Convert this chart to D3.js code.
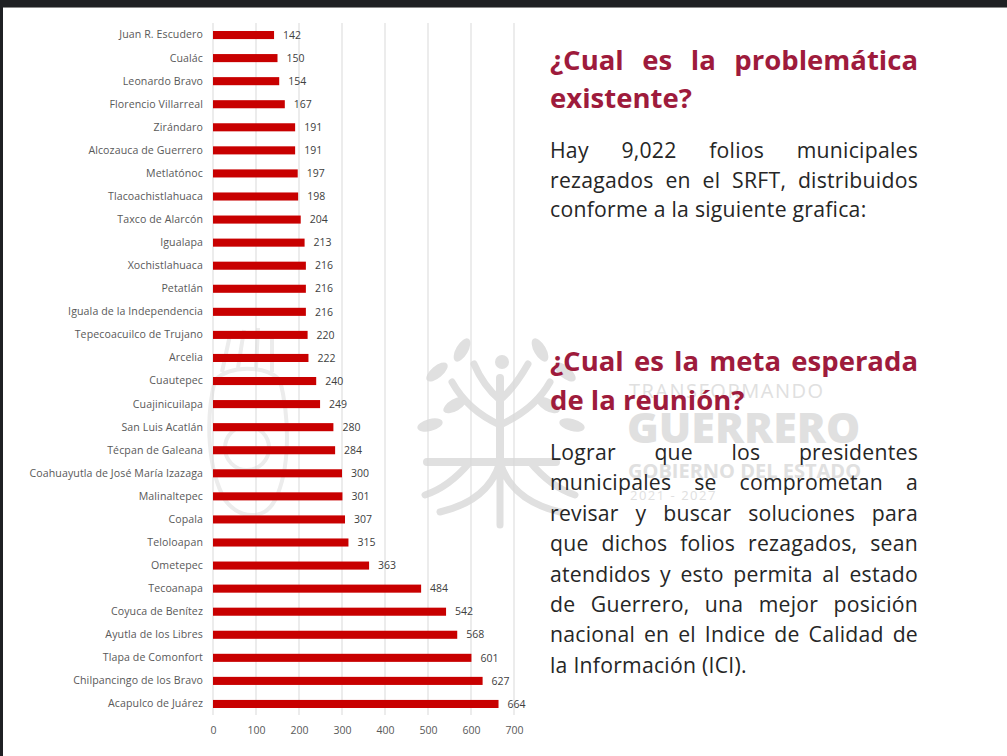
<!DOCTYPE html>
<html><head><meta charset="utf-8">
<script src="https://cdn.jsdelivr.net/npm/d3@7"></script>
<style>
html,body{margin:0;padding:0;background:#fff;}
svg{display:block;}
</style></head>
<body>
<svg id="c" width="1007" height="756"></svg>
<script>
const categories = ["Juan R. Escudero","Cualác","Leonardo Bravo","Florencio Villarreal","Zirándaro","Alcozauca de Guerrero","Metlatónoc","Tlacoachistlahuaca","Taxco de Alarcón","Igualapa","Xochistlahuaca","Petatlán","Iguala de la Independencia","Tepecoacuilco de Trujano","Arcelia","Cuautepec","Cuajinicuilapa","San Luis Acatlán","Técpan de Galeana","Coahuayutla de José María Izazaga","Malinaltepec","Copala","Teloloapan","Ometepec","Tecoanapa","Coyuca de Benítez","Ayutla de los Libres","Tlapa de Comonfort","Chilpancingo de los Bravo","Acapulco de Juárez"];
const values = [142,150,154,167,191,191,197,198,204,213,216,216,216,220,222,240,249,280,284,300,301,307,315,363,484,542,568,601,627,664];
const xTicks = [0,100,200,300,400,500,600,700];

const heading1 = ["¿Cual es la problemática", "existente?"];
const body1 = ["Hay 9,022 folios municipales", "rezagados en el SRFT, distribuidos", "conforme a la siguiente grafica:"];
const heading2 = ["¿Cual es la meta esperada", "de la reunión?"];
const body2 = ["Lograr que los presidentes", "municipales se comprometan a", "revisar y buscar soluciones para", "que dichos folios rezagados, sean", "atendidos y esto permita al estado", "de Guerrero, una mejor posición", "nacional en el Indice de Calidad de", "la Información (ICI)."];
const watermark = ["TRANSFORMANDO", "GUERRERO", "GOBIERNO DEL ESTADO", "2021 - 2027"];

const svg = d3.select("#c");
const FONT = "'Open Sans', Lato, sans-serif";
const WM = "#e0e0e0";

// ---- watermark logos (behind everything) ----
const logo = svg.append("g").attr("fill", "none").attr("stroke", WM).attr("stroke-linecap", "round");
logo.append("circle").attr("cx", 502).attr("cy", 362).attr("r", 7).attr("fill", WM).attr("stroke", "none");
logo.append("path").attr("stroke-width", 8).attr("d", "M500,378 L500,462 M427,462 L556,462");
logo.append("path").attr("stroke-width", 7).attr("d", "M500,400 C488,390 480,378 474,364 M500,400 C512,390 520,378 528,364 M500,425 C478,415 462,400 452,382 M500,425 C522,415 540,400 550,382");
logo.append("path").attr("stroke-width", 7).attr("d", "M500,462 C492,490 470,505 440,512 M500,462 C508,490 530,505 560,512 M500,462 L500,525 M470,462 C455,480 440,490 425,495 M530,462 C545,480 560,490 575,495");
const leaves = [[437,372,-40],[455,405,-30],[430,425,-15],[565,372,40],[548,405,30],[572,425,15],[462,350,-60],[540,350,60]];
leaves.forEach(l => logo.append("ellipse").attr("cx", l[0]).attr("cy", l[1]).attr("rx", 13).attr("ry", 6)
  .attr("transform", `rotate(${l[2]},${l[0]},${l[1]})`).attr("fill", WM).attr("stroke", "none"));
const coat = svg.append("g").attr("fill", "none").attr("stroke", "#ececec").attr("stroke-width", 4);
coat.append("path").attr("d", "M215,380 C205,420 208,470 225,500 C240,520 265,520 275,500 C290,470 290,420 280,380 C265,365 230,365 215,380 Z");
coat.append("path").attr("d", "M222,372 L230,335 M238,368 L244,330 M256,368 L258,328 M272,372 L272,335");
coat.append("circle").attr("cx", 247).attr("cy", 448).attr("r", 22);

// ---- watermark texts ----
const wm = svg.append("g").attr("fill", WM).attr("font-family", FONT);
const wmSpec = [
  {t: watermark[0], x: 629, y: 398, s: 20, w: 400, ls: 1.5},
  {t: watermark[1], x: 627, y: 443, s: 43, w: 800, ls: 0},
  {t: watermark[2], x: 628, y: 478, s: 20, w: 700, ls: 0},
  {t: watermark[3], x: 630, y: 500, s: 13, w: 400, ls: 1.5}
];
wmSpec.forEach(d => wm.append("text").attr("x", d.x).attr("y", d.y)
  .attr("font-size", d.s).attr("font-weight", d.w).attr("letter-spacing", d.ls).text(d.t));

// ---- chart ----
const x = d3.scaleLinear().domain([0, 700]).range([213, 514]);
const y = d3.scaleBand().domain(categories).range([23.5, 715.5]).paddingInner(0.65).paddingOuter(0.325);

const g = svg.append("g");
g.append("g").selectAll("line").data(xTicks).join("line")
  .attr("x1", d => x(d)).attr("x2", d => x(d))
  .attr("y1", 23).attr("y2", 715)
  .attr("stroke", "#d9d9d9").attr("stroke-width", 1);

g.append("g").selectAll("rect").data(values).join("rect")
  .attr("x", x(0)).attr("y", (d, i) => y(categories[i]))
  .attr("width", d => x(d) - x(0)).attr("height", y.bandwidth())
  .attr("fill", "#c80000");

g.append("g").selectAll("text").data(values).join("text")
  .attr("x", d => x(d) + 9).attr("y", (d, i) => y(categories[i]) + y.bandwidth() / 2)
  .attr("dy", "0.35em").attr("font-family", FONT).attr("font-size", 10.5)
  .attr("fill", "#404040").text(d => d);

const yAxis = d3.axisLeft(y).tickSize(0).tickPadding(10);
const ya = g.append("g").attr("transform", `translate(${x(0)},0)`).call(yAxis);
ya.select(".domain").remove();
ya.selectAll("text").attr("font-family", FONT).attr("font-size", 10.6).attr("letter-spacing", 0.1).attr("fill", "#595959");

const xAxis = d3.axisBottom(x).tickValues(xTicks).tickSize(0).tickPadding(0);
const xa = g.append("g").attr("transform", `translate(0,727)`).call(xAxis);
xa.select(".domain").remove();
xa.selectAll("text").attr("font-family", FONT).attr("font-size", 10.5).attr("fill", "#595959");

// ---- justified text ----
function block(lines, y0, lh, size, weight, color, ls) {
  const X0 = 550, X1 = 918;
  lines.forEach((line, li) => {
    const words = line.split(" ");
    const yy = y0 + li * lh;
    const tg = svg.append("g").attr("font-family", FONT).attr("font-size", size)
      .attr("font-weight", weight).attr("fill", color).attr("letter-spacing", ls);
    const nodes = words.map(w => tg.append("text").attr("y", yy).text(w));
    const widths = nodes.map(n => n.node().getComputedTextLength());
    const isLast = li === lines.length - 1;
    let gap;
    if (isLast) {
      const tmp = tg.append("text").text("a a");
      const tmp2 = tg.append("text").text("aa");
      gap = tmp.node().getComputedTextLength() - tmp2.node().getComputedTextLength();
      tmp.remove(); tmp2.remove();
    } else {
      const total = d3.sum(widths);
      gap = words.length > 1 ? (X1 - X0 - total) / (words.length - 1) : 0;
    }
    let cx = X0;
    nodes.forEach((n, i) => { n.attr("x", cx); cx += widths[i] + gap; });
  });
}
block(heading1, 70, 38, 27.5, 700, "#9e1b3c", 0);
block(body1, 158, 29.5, 21.2, 400, "#262626", 0.25);
block(heading2, 371, 39, 27.5, 700, "#9e1b3c", 0);
block(body2, 460, 30.4, 21.2, 400, "#262626", 0.25);

// ---- frame ----
svg.append("rect").attr("x", 0).attr("y", 0).attr("width", 1007).attr("height", 7).attr("fill", "#1f2023");
svg.append("rect").attr("x", 0).attr("y", 7).attr("width", 1007).attr("height", 1).attr("fill", "#8a8a8a");
svg.append("rect").attr("x", 0).attr("y", 0).attr("width", 3).attr("height", 756).attr("fill", "#1f2023");
</script>
</body></html>
